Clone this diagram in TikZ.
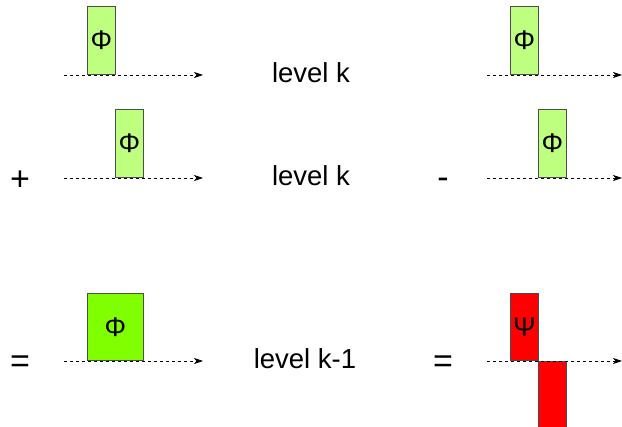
\documentclass[tikz,border=0pt]{standalone}
\usepackage{fontspec}
\setmainfont{Liberation Sans}
\usetikzlibrary{arrows.meta}

\definecolor{philight}{RGB}{191,255,128}
\definecolor{phibright}{RGB}{128,255,0}
\definecolor{psired}{RGB}{255,0,0}

\tikzset{
  coef/.style={draw=black!70, line width=0.7pt, inner sep=0pt, minimum width=28pt,
    font=\fontsize{27}{30}\selectfont},
  axis/.style={dash pattern=on 3pt off 3pt, line width=0.7pt,
    -{Stealth[length=9pt,width=6pt,inset=2.5pt]}},
  lbl/.style={font=\fontsize{27.5}{30}\selectfont, inner sep=0pt},
  op/.style={font=\fontsize{34}{36}\selectfont, inner sep=0pt, anchor=base},
}

\begin{document}
\begin{tikzpicture}[x=1pt,y=-1pt]
\useasboundingbox (0,0) rectangle (622,427);

% left: two scaling functions on level k
\node[coef, fill=philight, minimum height=68pt, anchor=south west] (phiA) at (87,75) {Φ};
\node[coef, fill=philight, minimum height=68pt, anchor=south west] (phiB) at (115,178) {Φ};
\node[coef, fill=phibright, minimum width=56pt, minimum height=67pt, anchor=south west] (phiC) at (87,361) {Φ};

% right: difference gives the wavelet
\node[coef, fill=philight, minimum height=68pt, anchor=south west] (phiD) at (510,75) {Φ};
\node[coef, fill=philight, minimum height=68pt, anchor=south west] (phiE) at (538,178) {Φ};
\node[coef, fill=psired, minimum height=67pt, anchor=south west] (psiA) at (510,361) {Ψ};
\node[coef, fill=psired, minimum height=67pt, anchor=north west] (psiB) at (538,361) {};

% axes
\coordinate (l1s) at (64,75);  \coordinate (l1e) at (203,75);
\coordinate (l2s) at (64,178); \coordinate (l2e) at (203,178);
\coordinate (l3s) at (64,361); \coordinate (l3e) at (203,361);
\coordinate (r1s) at (487,75);  \coordinate (r1e) at (622,75);
\coordinate (r2s) at (487,178); \coordinate (r2e) at (622,178);
\coordinate (r3s) at (487,361); \coordinate (r3e) at (622,361);
\foreach \s/\e in {l1s/l1e,l2s/l2e,l3s/l3e,r1s/r1e,r2s/r2e,r3s/r3e}
  \draw[axis] (\s) -- (\e);

% labels and operators
\node[lbl, anchor=base] (lvA) at (311,83) {level k};
\node[lbl, anchor=base] (lvB) at (311,186) {level k};
\node[lbl, anchor=base] (lvC) at (305,369) {level k-1};
\node[op] (plus) at (20,191) {+};
\node[op] (minus) at (443,189) {-};
\node[op] (eqA) at (20,373) {=};
\node[op] (eqB) at (443,373) {=};
\end{tikzpicture}
\end{document}
